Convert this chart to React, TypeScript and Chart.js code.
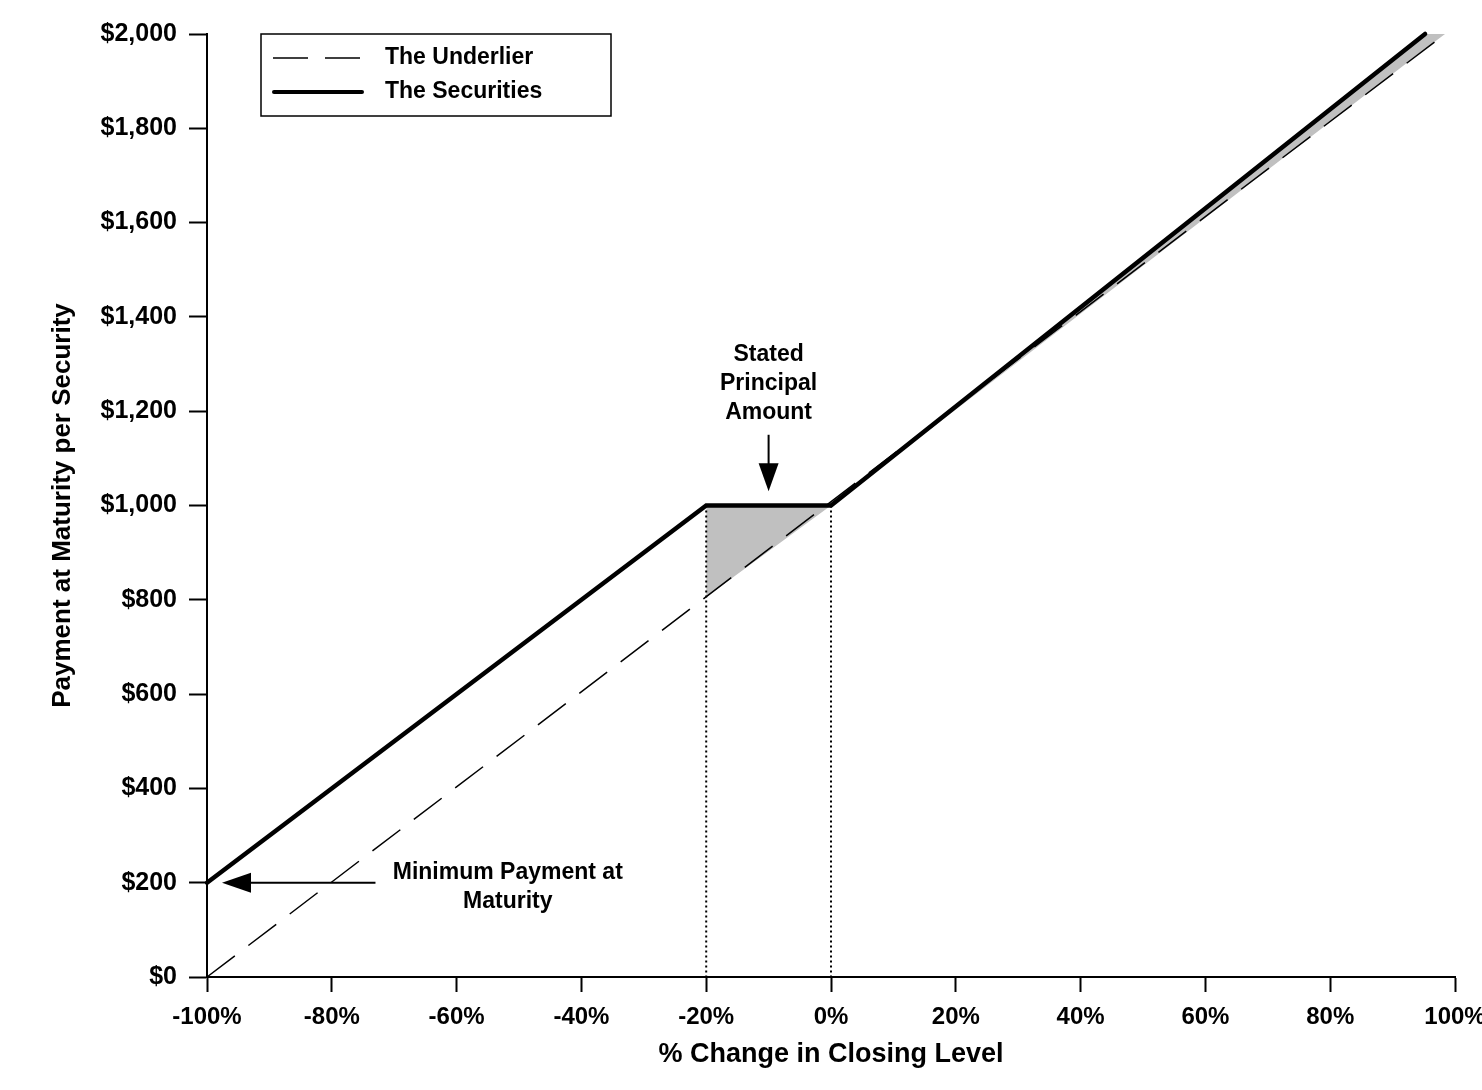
import React, { useEffect, useRef } from 'react';
import { Chart, registerables } from 'chart.js';

Chart.register(...registerables);

// % change in closing level -> payment at maturity per security
const securitiesX = [-100, -20, 0, 95.2];
const securitiesY = [200, 1000, 1000, 2000];
const underlierX = [-100, 98.4];
const underlierY = [0, 2000];

// grey area where the securities pay more than the underlier
const shadeX = [-20, 0, 95.2, 98.4];
const shadeTopY = [1000, 1000, 2000, 2000];
const shadeBottomY = [806, 1000, 1968, 2000];

// dotted guides dropping from the principal amount to the axis
const guideX = [-20, 0];
const guideY = [1000, 0];

const xTickValues = [-100, -80, -60, -40, -20, 0, 20, 40, 60, 80, 100];
const yTickValues = [0, 200, 400, 600, 800, 1000, 1200, 1400, 1600, 1800, 2000];

const legendLabels = ['The Underlier', 'The Securities'];
const principalNote = ['Stated', 'Principal', 'Amount'];
const minimumNote = ['Minimum Payment at', 'Maturity'];

const FONT = '"Liberation Sans", Arial, Helvetica, sans-serif';

const toPoints = (xs: number[], ys: number[]) => xs.map((x, i) => ({ x, y: ys[i] }));

const notesPlugin = {
  id: 'payoffNotes',
  afterDraw(chart: any) {
    const { ctx, scales, chartArea } = chart;
    const x = scales.x;
    const y = scales.y;
    ctx.save();
    ctx.fillStyle = '#000';
    ctx.strokeStyle = '#000';
    ctx.font = `bold 23px ${FONT}`;
    ctx.textAlign = 'center';
    ctx.textBaseline = 'middle';

    // stated principal amount, arrow pointing down at the flat part
    const px = x.getPixelForValue(-10);
    const py = y.getPixelForValue(1319);
    principalNote.forEach((t, i) => ctx.fillText(t, px, py + i * 29));
    const shaftTop = y.getPixelForValue(1150);
    const tipY = y.getPixelForValue(1030);
    ctx.lineWidth = 2;
    ctx.beginPath();
    ctx.moveTo(px, shaftTop);
    ctx.lineTo(px, tipY - 20);
    ctx.stroke();
    ctx.beginPath();
    ctx.moveTo(px - 10, tipY - 28);
    ctx.lineTo(px + 10, tipY - 28);
    ctx.lineTo(px, tipY);
    ctx.closePath();
    ctx.fill();

    // minimum payment, arrow pointing left at $200
    const mx = x.getPixelForValue(-51.8);
    const my = y.getPixelForValue(222);
    minimumNote.forEach((t, i) => ctx.fillText(t, mx, my + i * 29));
    const ay = y.getPixelForValue(200);
    const tipX = x.getPixelForValue(-97.6);
    ctx.beginPath();
    ctx.moveTo(x.getPixelForValue(-73), ay);
    ctx.lineTo(tipX + 20, ay);
    ctx.stroke();
    ctx.beginPath();
    ctx.moveTo(tipX + 29, ay - 10);
    ctx.lineTo(tipX + 29, ay + 10);
    ctx.lineTo(tipX, ay);
    ctx.closePath();
    ctx.fill();

    // legend box in the upper left of the plot
    const bx = chartArea.left + 54;
    const by = chartArea.top;
    ctx.lineWidth = 1.5;
    ctx.strokeRect(bx, by, 350, 82);
    ctx.textAlign = 'left';
    ctx.setLineDash([35, 17]);
    ctx.beginPath();
    ctx.moveTo(bx + 12, by + 24);
    ctx.lineTo(bx + 100, by + 24);
    ctx.stroke();
    ctx.setLineDash([]);
    ctx.lineWidth = 4;
    ctx.lineCap = 'round';
    ctx.beginPath();
    ctx.moveTo(bx + 13, by + 58);
    ctx.lineTo(bx + 101, by + 58);
    ctx.stroke();
    ctx.fillText(legendLabels[0], bx + 124, by + 24);
    ctx.fillText(legendLabels[1], bx + 124, by + 58);
    ctx.restore();
  },
};

const App: React.FC = () => {
  const canvasRef = useRef<HTMLCanvasElement>(null);

  useEffect(() => {
    document.body.style.margin = '0';
    if (!canvasRef.current) return;

    const chart = new Chart(canvasRef.current, {
      type: 'line',
      data: {
        datasets: [
          {
            label: legendLabels[1],
            data: toPoints(securitiesX, securitiesY),
            borderColor: '#000',
            borderWidth: 4.5,
            borderCapStyle: 'round',
            borderJoinStyle: 'miter',
            pointRadius: 0,
            fill: false,
            clip: false,
          },
          {
            label: legendLabels[0],
            data: toPoints(underlierX, underlierY),
            borderColor: '#000',
            borderWidth: 1.5,
            borderDash: [35, 17],
            pointRadius: 0,
            fill: false,
            clip: false,
          },
          ...guideX.map(g => ({
            label: 'guide',
            data: toPoints([g, g], guideY),
            borderColor: '#000',
            borderWidth: 2,
            borderDash: [2, 3],
            pointRadius: 0,
            fill: false,
          })),
          {
            label: 'shade',
            data: toPoints(shadeX, shadeTopY),
            borderWidth: 0,
            borderColor: 'rgba(0,0,0,0)',
            backgroundColor: '#c0c0c0',
            pointRadius: 0,
            fill: '+1',
            clip: false,
          },
          {
            label: 'shade base',
            data: toPoints(shadeX, shadeBottomY),
            borderWidth: 0,
            borderColor: 'rgba(0,0,0,0)',
            pointRadius: 0,
            fill: false,
            clip: false,
          },
        ],
      },
      options: {
        responsive: true,
        maintainAspectRatio: false,
        animation: false,
        events: [],
        layout: { padding: { top: 34, right: 27, left: 0, bottom: 0 } },
        plugins: {
          legend: { display: false },
          tooltip: { enabled: false },
        },
        scales: {
          x: {
            type: 'linear',
            min: -100,
            max: 100,
            afterBuildTicks: (s: any) => {
              s.ticks = xTickValues.map(value => ({ value }));
            },
            afterFit: (s: any) => {
              s.height = 113;
              s.paddingLeft = 0;
              s.paddingRight = 0;
            },
            ticks: {
              color: '#000',
              font: { family: FONT, size: 24, weight: 'bold' },
              padding: 11,
              maxRotation: 0,
              callback: (v: any) => `${v}%`,
            },
            grid: {
              drawOnChartArea: false,
              drawTicks: true,
              tickLength: 15,
              tickWidth: 2,
              tickColor: '#000',
            },
            border: { display: true, color: '#000', width: 2 },
            title: {
              display: true,
              text: '% Change in Closing Level',
              color: '#000',
              font: { family: FONT, size: 27, weight: 'bold' },
              padding: { top: 0, bottom: 19 },
            },
          },
          y: {
            type: 'linear',
            min: 0,
            max: 2000,
            afterBuildTicks: (s: any) => {
              s.ticks = yTickValues.map(value => ({ value }));
            },
            afterFit: (s: any) => {
              s.width = 207;
              s.paddingTop = 0;
              s.paddingBottom = 0;
            },
            ticks: {
              color: '#000',
              font: { family: FONT, size: 25, weight: 'bold' },
              padding: 12,
              callback: (v: any) => `$${Number(v).toLocaleString('en-US')}`,
            },
            grid: {
              drawOnChartArea: false,
              drawTicks: true,
              tickLength: 18,
              tickWidth: 2,
              tickColor: '#000',
            },
            border: { display: true, color: '#000', width: 2 },
            title: {
              display: true,
              text: 'Payment at Maturity per Security',
              color: '#000',
              font: { family: FONT, size: 26, weight: 'bold' },
              padding: { top: 47, bottom: 0 },
            },
          },
        },
      },
      plugins: [notesPlugin],
    });

    return () => {
      chart.destroy();
    };
  }, []);

  return (
    <div style={{ width: 1482, height: 1090, position: 'relative', background: '#fff' }}>
      <canvas ref={canvasRef} />
    </div>
  );
};

export default App;
